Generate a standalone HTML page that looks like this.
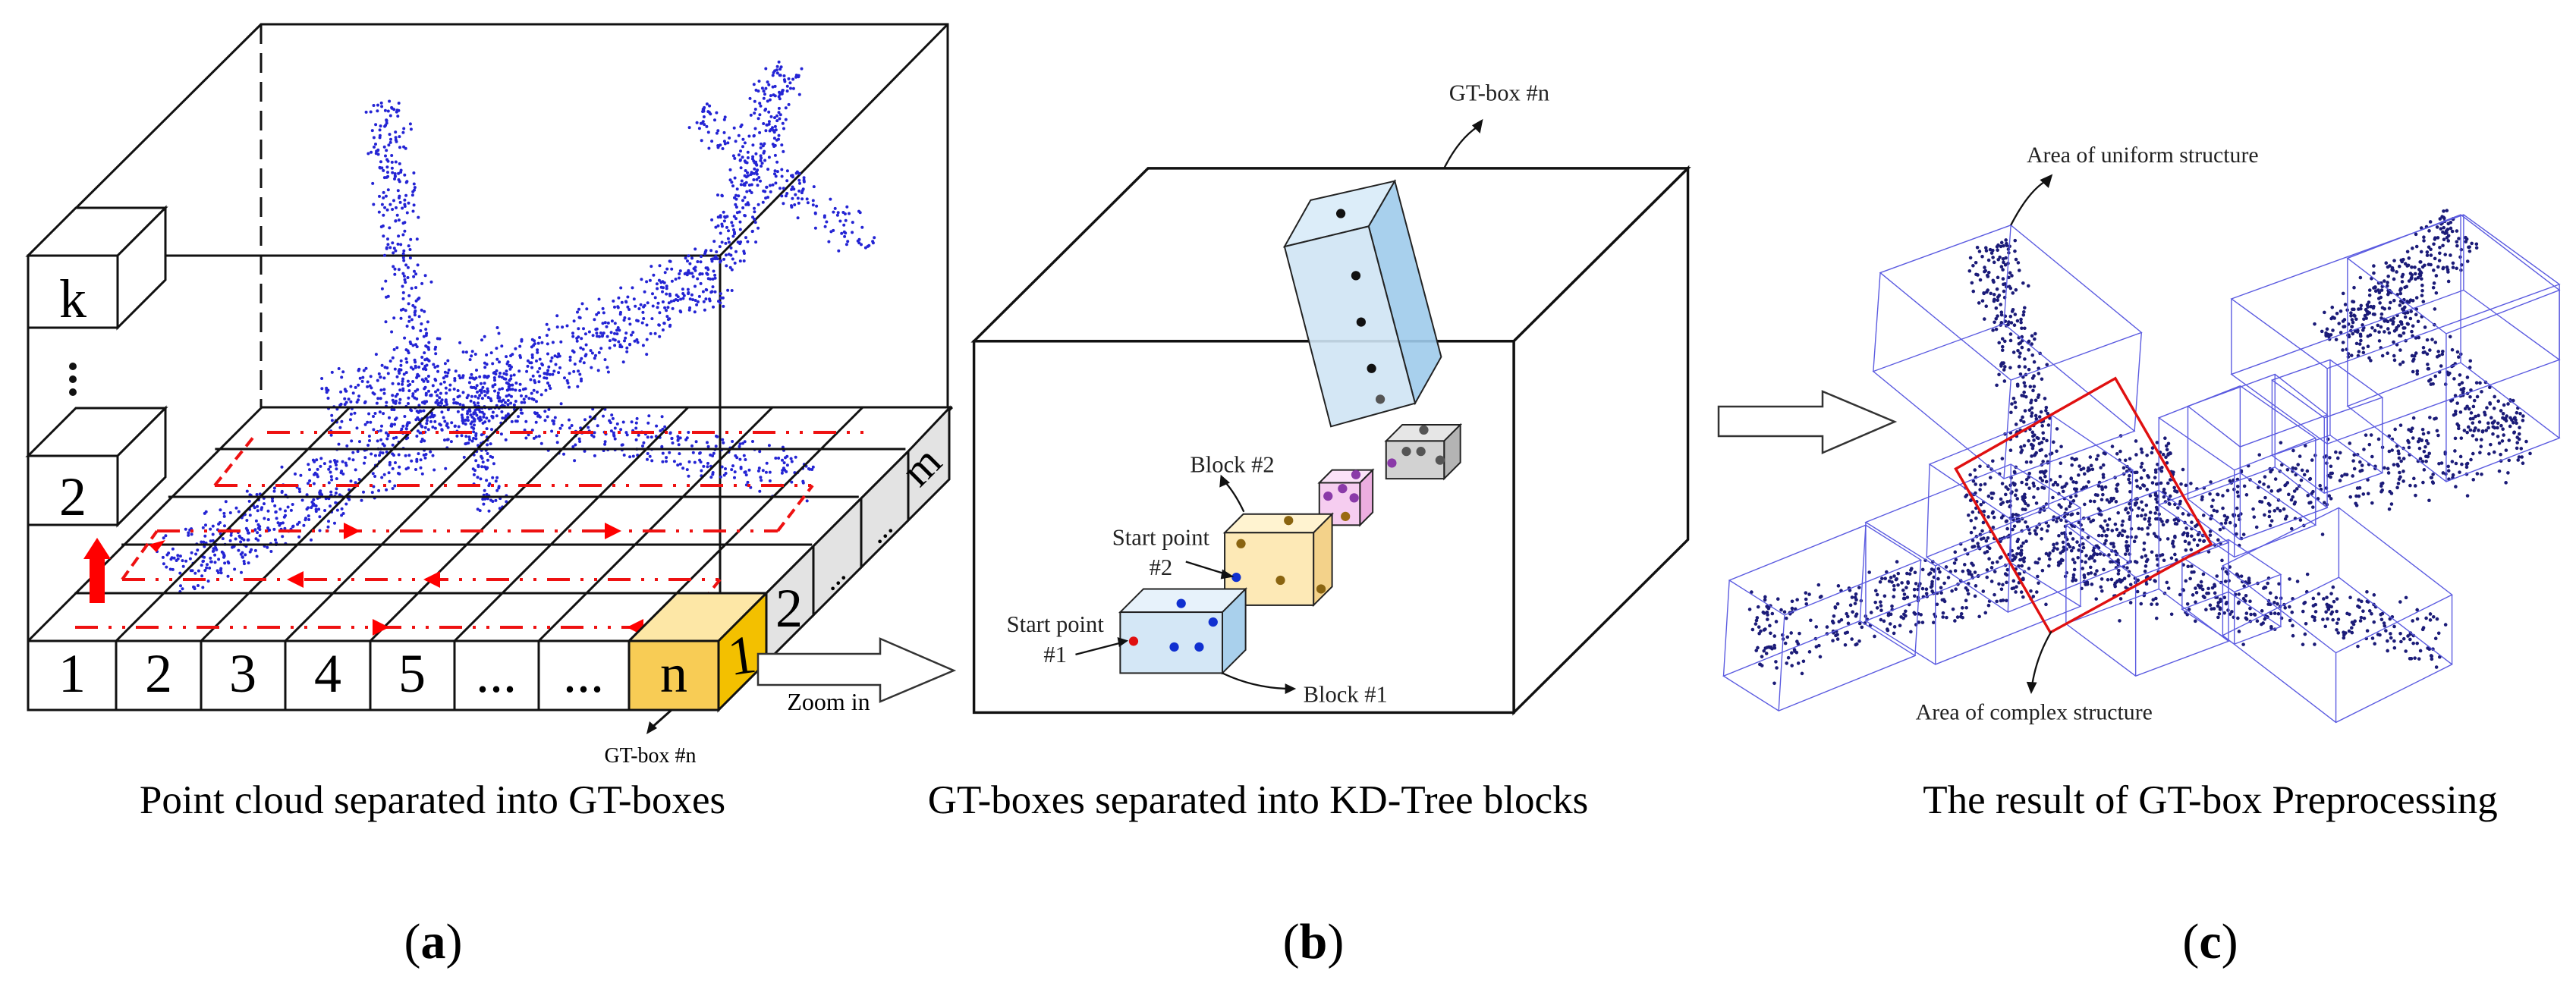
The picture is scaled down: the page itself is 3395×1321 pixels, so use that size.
<!DOCTYPE html>
<html><head><meta charset="utf-8">
<style>
html,body{margin:0;padding:0;background:#fff;}
svg{display:block;}
text{font-family:"Liberation Serif",serif;}
</style></head>
<body>
<svg id="s" width="3395" height="1321" viewBox="0 0 3395 1321" xmlns="http://www.w3.org/2000/svg">
<rect width="3395" height="1321" fill="#fff"/>

<!-- ============ (a) ============ -->
<g id="a" stroke="#111" stroke-width="3" fill="none">
  <polyline points="37,337 344,32 1249,32 1249,538"/>
  <line x1="1249" y1="32" x2="949" y2="337"/>
  <line x1="37" y1="337" x2="949" y2="337"/>
  <line x1="37" y1="337" x2="37" y2="936"/>
  <line x1="949" y1="337" x2="949" y2="845"/>
  <line x1="344" y1="32" x2="344" y2="537" stroke-dasharray="26,12"/>
</g>
<g id="adots"></g>
<g id="agrid" stroke="#111" stroke-width="3" fill="none"></g>
<g id="ared"></g>
<g stroke="#111" stroke-width="3">
  <polygon points="37,337 100,274 218,274 155,337" fill="#fff"/>
  <polygon points="155,337 218,274 218,369 155,432" fill="#fff"/>
  <rect x="37" y="337" width="118" height="95" fill="#fff"/>
  <polygon points="37,601 100,538 218,538 155,601" fill="#fff"/>
  <polygon points="155,601 218,538 218,629 155,692" fill="#fff"/>
  <rect x="37" y="601" width="118" height="91" fill="#fff"/>
</g>
<text x="96" y="418" font-size="72" text-anchor="middle">k</text>
<text x="96" y="679" font-size="72" text-anchor="middle">2</text>
<circle cx="96" cy="483" r="5" fill="#111"/><circle cx="96" cy="500" r="5" fill="#111"/><circle cx="96" cy="517" r="5" fill="#111"/>
<rect x="118" y="735" width="20" height="60" fill="#f00"/>
<polygon points="110,737 146,737 128,709" fill="#f00"/>

<g stroke="#111" stroke-width="3">
  <rect x="37" y="845" width="116" height="91" fill="#fff"/>
  <rect x="153" y="845" width="112" height="91" fill="#fff"/>
  <rect x="265" y="845" width="111" height="91" fill="#fff"/>
  <rect x="376" y="845" width="112" height="91" fill="#fff"/>
  <rect x="488" y="845" width="111" height="91" fill="#fff"/>
  <rect x="599" y="845" width="111" height="91" fill="#fff"/>
  <rect x="710" y="845" width="119" height="91" fill="#fff"/>
  <polygon points="829,845 892,782 1010,782 947,845" fill="#fde7a6"/>
  <rect x="829" y="845" width="118" height="91" fill="#f8cc55"/>
  <polygon points="947,845 1010,782 1010,873 947,936" fill="#f3c000"/>
  <polygon points="1010,782 1072,720 1072,811 1010,873" fill="#e3e3e3"/>
  <polygon points="1072,720 1135,657 1135,748 1072,811" fill="#e3e3e3"/>
  <polygon points="1135,657 1197,595 1197,686 1135,748" fill="#e3e3e3"/>
  <polygon points="1197,595 1251,538 1251,632 1197,686" fill="#e3e3e3"/>
</g>
<g font-size="72" text-anchor="middle">
  <text x="95" y="912">1</text><text x="209" y="912">2</text><text x="320" y="912">3</text>
  <text x="432" y="912">4</text><text x="543" y="912">5</text>
  <text x="654" y="912">...</text><text x="769" y="912">...</text>
  <text x="888" y="912">n</text>
  <text x="978" y="888" transform="rotate(-8 978 865)">1</text>
  <text x="1040" y="826">2</text>
</g>
<g font-size="40" text-anchor="middle">
  <text transform="translate(1106,770) rotate(-45)">...</text>
  <text transform="translate(1168,708) rotate(-45)">...</text>
  <text transform="translate(1228,628) rotate(-45)" font-size="58">m</text>
</g>
<path d="M885,936 L858,960" stroke="#111" stroke-width="3"/>
<polygon points="852,968 856,951 866,960" fill="#111"/>
<text x="857" y="1005" font-size="28" text-anchor="middle">GT-box #n</text>
<polygon points="999,862 1160,862 1160,842 1257,884 1160,925 1160,903 999,903" fill="#fff" stroke="#333" stroke-width="2.5"/>
<text x="1092" y="936" font-size="32" text-anchor="middle">Zoom in</text>
<text x="570" y="1072" font-size="53" text-anchor="middle">Point cloud separated into GT-boxes</text>

<!-- ============ (b) ============ -->
<g transform="translate(1100,0) scale(0.765)">
  <g stroke="#111" stroke-width="4.5" fill="#fff">
    <polygon points="240,588 540,290 1470,290 1170,588"/>
    <polygon points="1170,588 1470,290 1470,930 1170,1228"/>
    <rect x="240" y="588" width="930" height="640"/>
  </g>
  <g stroke="#222" stroke-width="2.6">
    <polygon points="775,425 820,345 965,312 920,390" fill="#dcedf9"/>
    <polygon points="920,390 965,312 1045,615 1000,695" fill="#9fcbeb" fill-opacity="0.9"/>
    <polygon points="775,425 920,390 1000,695 855,735" fill="#cfe4f4" fill-opacity="0.9"/>
  </g>
  <g id="cubes" stroke="#222" stroke-width="2.6"></g>
  <g id="bdots"></g>
  <g stroke="#111" stroke-width="3" fill="none">
    <path d="M1050,290 Q1075,240 1108,218"/>
    <path d="M705,882 Q690,850 672,830"/>
    <path d="M605,968 L676,990"/>
    <path d="M415,1128 L496,1107"/>
    <path d="M668,1160 Q720,1185 780,1187"/>
  </g>
  <g fill="#111">
    <polygon points="1117,205 1098,216 1112,230"/>
    <polygon points="665,818 663,840 681,832"/>
    <polygon points="688,994 668,981 665,998"/>
    <polygon points="506,1104 487,1098 490,1115"/>
    <polygon points="795,1187 776,1178 776,1196"/>
  </g>
  <g font-size="40" text-anchor="middle" fill="#222">
    <text x="1145" y="173">GT-box #n</text>
    <text x="685" y="814">Block #2</text>
    <text x="562" y="939">Start point</text>
    <text x="562" y="991">#2</text>
    <text x="380" y="1089">Start point</text>
    <text x="380" y="1141">#1</text>
    <text x="880" y="1210">Block #1</text>
  </g>
</g>
<text x="1658" y="1072" font-size="53" text-anchor="middle">GT-boxes separated into KD-Tree blocks</text>

<!-- ============ (c) ============ -->
<polygon points="2265,536 2402,536 2402,516 2497,556 2402,597 2402,575 2265,575" fill="#fff" stroke="#333" stroke-width="2.5"/>
<g transform="translate(2195,0) scale(0.765)">
  <g id="cdots"></g>
  <g id="cboxes" stroke="#5a5ae0" stroke-width="1.8" fill="none"></g>
  <polygon points="500,808 775,652 940,938 663,1090" fill="none" stroke="#e01010" stroke-width="4.5"/>
  <g stroke="#111" stroke-width="3" fill="none">
    <path d="M595,388 Q625,330 655,312"/>
    <path d="M665,1088 Q640,1130 632,1178"/>
  </g>
  <polygon points="667,300 645,310 660,324" fill="#111"/>
  <polygon points="630,1196 622,1175 640,1176" fill="#111"/>
  <g font-size="39" text-anchor="middle" fill="#222">
    <text x="822" y="280">Area of uniform structure</text>
    <text x="635" y="1240">Area of complex structure</text>
  </g>
</g>
<text x="2913" y="1072" font-size="53" text-anchor="middle">The result of GT-box Preprocessing</text>

<g font-size="66" text-anchor="middle">
  <text x="571" y="1263">(<tspan font-weight="bold">a</tspan>)</text>
  <text x="1731" y="1263">(<tspan font-weight="bold">b</tspan>)</text>
  <text x="2913" y="1263">(<tspan font-weight="bold">c</tspan>)</text>
</g>
</svg>
<script>
(function(){
var NS="http://www.w3.org/2000/svg";
function el(parent,tag,attrs){var e=document.createElementNS(NS,tag);for(var k in attrs)e.setAttribute(k,attrs[k]);parent.appendChild(e);return e;}
var seed=12345;function rnd(){seed=(seed*1103515245+12345)%2147483648;return seed/2147483648;}
function spread(){return (rnd()*2-1)*0.6+(rnd()+rnd()-1)*0.5;}
function scatter(g,A,B,r,n,rad,col,sc){
  var dx=B[0]-A[0],dy=B[1]-A[1],L=Math.sqrt(dx*dx+dy*dy),nx=-dy/L,ny=dx/L;
  for(var i=0;i<n;i++){var t=rnd(),o=spread()*r;
    var x=A[0]+dx*t+nx*o,y=A[1]+dy*t+ny*o;
    el(g,"circle",{cx:(x*sc).toFixed(1),cy:(y*sc).toFixed(1),r:rad,fill:col});}
}
var ad=document.getElementById("adots"),s=0.765,bc="#2424d4";
scatter(ad,[290,990],[1245,460],75,1000,2,bc,s);
scatter(ad,[1245,460],[1355,110],55,260,2,bc,s);
scatter(ad,[1200,200],[1500,430],45,160,2,bc,s);
scatter(ad,[665,175],[720,690],45,280,2,bc,s);
scatter(ad,[790,700],[1400,820],55,300,2,bc,s);
scatter(ad,[820,700],[850,880],35,90,2,bc,s);
scatter(ad,[560,700],[880,640],90,250,2,bc,s);
var gg=document.getElementById("agrid");
var rowsY=[845,782,718,655,592,537];
for(var k=0;k<6;k++){var off=k*61.6;var y=rowsY[k];
  el(gg,"line",{x1:37+off,y1:y,x2:(k==0?947:947+off),y2:y});}
var cols=[37,153,265,376,488,599,710,829,947];
for(var c=0;c<cols.length;c++){el(gg,"line",{x1:cols[c],y1:845,x2:cols[c]+308,y2:537});}
var rg=document.getElementById("ared");
var rows=[[99,895,827,1],[161,949,764,-1],[207,1025,700,1],[283,1071,640,-1],[352,1151,570,1]];
rows.forEach(function(r){
  el(rg,"line",{x1:r[0],y1:r[2],x2:r[1],y2:r[2],stroke:"#e11",'stroke-width':4,'stroke-dasharray':"30,14,4,14,4,14"});
});
function tri(x,y,dir){var p=dir>0?[x+16,y,x-6,y-11,x-6,y+11]:[x-16,y,x+6,y-11,x+6,y+11];el(rg,"polygon",{points:p.join(","),fill:"#f00"});}
tri(497,827,1);tri(842,827,-1);tri(394,764,-1);tri(574,764,-1);tri(459,700,1);tri(803,700,1);
el(rg,"line",{x1:949,y1:764,x2:920,y2:800,stroke:"#e11",'stroke-width':4,'stroke-dasharray':"14,8"});
el(rg,"polygon",{points:"912,808 905,790 925,792",fill:"#f00"});
el(rg,"line",{x1:161,y1:764,x2:207,y2:700,stroke:"#e11",'stroke-width':4,'stroke-dasharray':"14,8"});
el(rg,"polygon",{points:"218,712 196,718 206,728",fill:"#f00"});
el(rg,"line",{x1:1025,y1:700,x2:1071,y2:640,stroke:"#e11",'stroke-width':4,'stroke-dasharray':"14,8"});
el(rg,"line",{x1:283,y1:640,x2:335,y2:575,stroke:"#e11",'stroke-width':4,'stroke-dasharray':"14,8"});
var cg=document.getElementById("cubes");
function cube(x,y,w,h,d,f,t,sd){
  el(cg,"polygon",{points:[x,y,x+d,y-d,x+w+d,y-d,x+w,y].join(","),fill:t});
  el(cg,"polygon",{points:[x+w,y,x+w+d,y-d,x+w+d,y+h-d,x+w,y+h].join(","),fill:sd});
  el(cg,"rect",{x:x,y:y,width:w,height:h,fill:f});
}
cube(950,760,100,65,28,"#d2d2d2","#e6e6e6","#b4b4b4");
cube(835,832,70,73,22,"#f6cdf0","#fbe2f8","#ecaee0");
cube(672,918,153,125,32,"#fde9b6","#fff3d0","#f3d28a");
cube(492,1055,176,105,40,"#d4e7f6","#e7f2fb","#a9d0ec");
var bd=document.getElementById("bdots");
var dots=[[872,368,"#111"],[898,475,"#111"],[907,555,"#111"],[925,635,"#111"],[940,688,"#555"],
[1015,741,"#555"],[985,778,"#555"],[1010,778,"#555"],[1043,793,"#555"],[960,798,"#8a3aa8"],
[898,818,"#8a3aa8"],[850,855,"#8a3aa8"],[875,842,"#8a3aa8"],[895,858,"#8a3aa8"],[880,890,"#9a6a10"],
[782,897,"#8a6410"],[700,937,"#8a6410"],[768,1000,"#8a6410"],[838,1015,"#8a6410"],[692,995,"#1030d0"],
[597,1040,"#1030d0"],[652,1072,"#1030d0"],[585,1115,"#1030d0"],[628,1115,"#1030d0"],[515,1105,"#e01010"]];
dots.forEach(function(d){el(bd,"circle",{cx:d[0],cy:d[1],r:8,fill:d[2]});});
var cd=document.getElementById("cdots"),nc="#1b1b78";
scatter(cd,[150,1100],[1480,740],85,950,3,nc,1);
scatter(cd,[560,420],[650,800],55,260,3,nc,1);
scatter(cd,[700,980],[1340,1100],70,360,3,nc,1);
scatter(cd,[1150,600],[1380,400],70,280,3,nc,1);
scatter(cd,[1200,520],[1470,760],60,180,3,nc,1);
scatter(cd,[520,880],[880,820],100,380,3,nc,1);
var cb=document.getElementById("cboxes");
function wire(P,u,w,h){
  var A=P,B=[P[0]+u[0],P[1]+u[1]],C=[B[0]+w[0],B[1]+w[1]],D=[P[0]+w[0],P[1]+w[1]];
  var t=[A,B,C,D],b=t.map(function(p){return [p[0]+h[0],p[1]+h[1]];});
  var poly=function(a){el(cb,"polygon",{points:a.map(function(p){return p.join(",");}).join(" ")});};
  poly(t);poly(b);
  for(var i=0;i<4;i++)el(cb,"line",{x1:t[i][0],y1:t[i][1],x2:b[i][0],y2:b[i][1]});
}
wire([370,470],[225,-82],[225,185],[-12,170]);
wire([110,1000],[235,-95],[95,60],[-10,165]);
wire([345,900],[250,-100],[120,75],[0,170]);
wire([455,800],[210,-85],[140,95],[-5,160]);
wire([690,905],[160,-60],[120,90],[0,170]);
wire([850,720],[140,-55],[130,90],[0,150]);
wire([900,700],[150,-55],[90,70],[0,160]);
wire([1045,655],[100,-35],[90,65],[0,130]);
wire([975,515],[400,-145],[165,120],[0,130]);
wire([1175,445],[195,-75],[170,130],[0,255]);
wire([960,975],[200,-100],[195,150],[0,120]);
wire([890,960],[80,-30],[90,60],[0,90]);
})();
</script>
</body></html>
